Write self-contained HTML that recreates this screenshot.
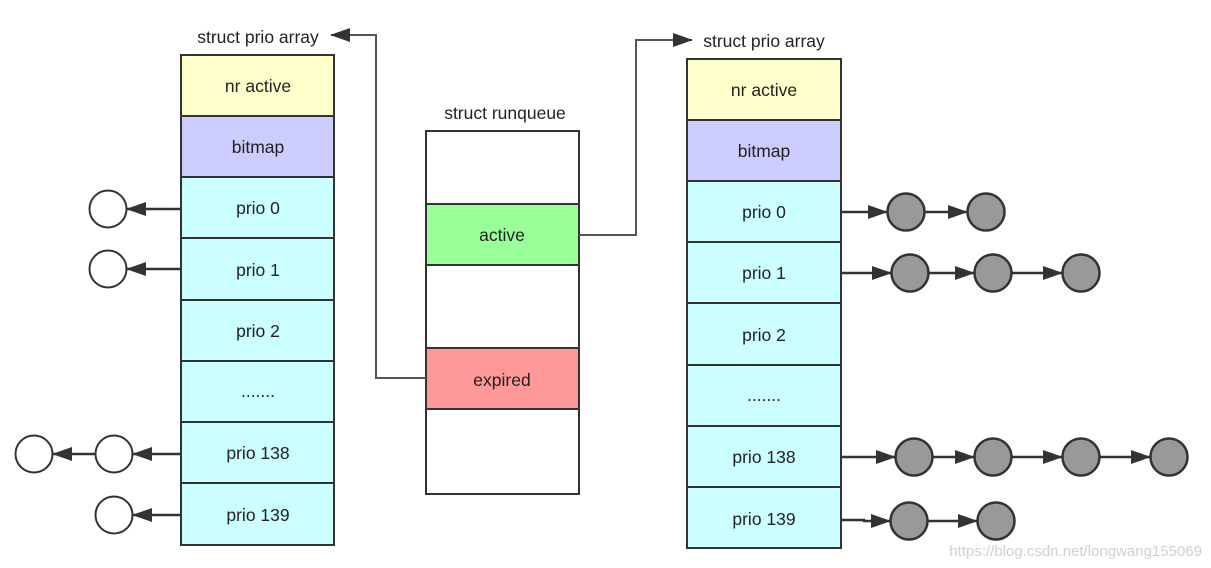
<!DOCTYPE html>
<html><head><meta charset="utf-8"><style>
html,body{margin:0;padding:0;background:#fff;}
svg{display:block;}
text{font-family:"Liberation Sans","DejaVu Sans",sans-serif;font-size:17.5px;fill:#222;}
</style></head><body>
<svg width="1211" height="568" viewBox="0 0 1211 568" xmlns="http://www.w3.org/2000/svg">
<defs>
<marker id="b" markerWidth="20" markerHeight="14" refX="19" refY="7" orient="auto" markerUnits="userSpaceOnUse" viewBox="0 0 20 14">
<path d="M0,0 L20,7 L0,14 z" fill="#333"/></marker>
</defs>

<text x="258" y="43" text-anchor="middle">struct prio  array</text>
<g stroke="#333" stroke-width="2">
<rect x="181" y="55" width="153" height="61" fill="#ffffcc"/>
<rect x="181" y="116" width="153" height="61" fill="#ccccff"/>
<rect x="181" y="177" width="153" height="61" fill="#ccffff"/>
<rect x="181" y="238" width="153" height="62" fill="#ccffff"/>
<rect x="181" y="300" width="153" height="61" fill="#ccffff"/>
<rect x="181" y="361" width="153" height="61" fill="#ccffff"/>
<rect x="181" y="422" width="153" height="61" fill="#ccffff"/>
<rect x="181" y="483" width="153" height="62" fill="#ccffff"/>
</g>
<g text-anchor="middle">
<text x="258" y="92">nr  active</text>
<text x="258" y="153">bitmap</text>
<text x="258" y="214">prio  0</text>
<text x="258" y="276">prio  1</text>
<text x="258" y="337">prio  2</text>
<text x="258" y="397">.......</text>
<text x="258" y="459">prio  138</text>
<text x="258" y="521">prio  139</text>
</g>
<g stroke="#333" stroke-width="2" fill="#fff">
<circle cx="108" cy="209" r="18.5"/>
<circle cx="108" cy="269" r="18.5"/>
<circle cx="34" cy="454" r="18.5"/>
<circle cx="114" cy="454" r="18.5"/>
<circle cx="114" cy="515" r="18.5"/>
</g>
<g stroke="#333" stroke-width="2.5" fill="none" marker-end="url(#b)">
<line x1="181" y1="209" x2="127" y2="209"/>
<line x1="181" y1="269" x2="127" y2="269"/>
<line x1="181" y1="454" x2="133" y2="454"/>
<line x1="95" y1="454" x2="53" y2="454"/>
<line x1="181" y1="515" x2="133" y2="515"/>
</g>

<text x="505" y="119" text-anchor="middle">struct runqueue</text>
<g stroke="#333" stroke-width="2">
<rect x="426" y="131" width="153" height="363" fill="#fff"/>
<rect x="426" y="204" width="153" height="61" fill="#99ff99"/>
<rect x="426" y="348" width="153" height="61" fill="#ff9999"/>
</g>
<text x="502" y="241" text-anchor="middle">active</text>
<text x="502" y="386" text-anchor="middle">expired</text>

<g stroke="#555" stroke-width="2" fill="none" marker-end="url(#b)">
<polyline points="426,378 376,378 376,35 331,35"/>
<polyline points="579,235 636,235 636,40 692,40"/>
</g>

<text x="764" y="47" text-anchor="middle">struct prio  array</text>
<g stroke="#333" stroke-width="2">
<rect x="687" y="59" width="154" height="61" fill="#ffffcc"/>
<rect x="687" y="120" width="154" height="61" fill="#ccccff"/>
<rect x="687" y="181" width="154" height="61" fill="#ccffff"/>
<rect x="687" y="242" width="154" height="61" fill="#ccffff"/>
<rect x="687" y="303" width="154" height="62" fill="#ccffff"/>
<rect x="687" y="365" width="154" height="61" fill="#ccffff"/>
<rect x="687" y="426" width="154" height="61" fill="#ccffff"/>
<rect x="687" y="487" width="154" height="61" fill="#ccffff"/>
</g>
<g text-anchor="middle">
<text x="764" y="96">nr  active</text>
<text x="764" y="157">bitmap</text>
<text x="764" y="218">prio  0</text>
<text x="764" y="279">prio  1</text>
<text x="764" y="341">prio  2</text>
<text x="764" y="401">.......</text>
<text x="764" y="463">prio  138</text>
<text x="764" y="525">prio  139</text>
</g>
<g stroke="#333" stroke-width="2.5" fill="none" marker-end="url(#b)">
<line x1="841" y1="212" x2="887" y2="212"/>
<line x1="925" y1="212" x2="967" y2="212"/>
<line x1="841" y1="273" x2="891" y2="273"/>
<line x1="929" y1="273" x2="974" y2="273"/>
<line x1="1012" y1="273" x2="1062" y2="273"/>
<line x1="841" y1="457" x2="895" y2="457"/>
<line x1="933" y1="457" x2="974" y2="457"/>
<line x1="1012" y1="457" x2="1062" y2="457"/>
<line x1="1100" y1="457" x2="1150" y2="457"/>
<polyline points="841,520 864,520 864,521 890,521"/>
<line x1="928" y1="521" x2="977" y2="521"/>
</g>
<g stroke="#333" stroke-width="2.5" fill="#999">
<circle cx="906" cy="212" r="18.5"/>
<circle cx="986" cy="212" r="18.5"/>
<circle cx="910" cy="273" r="18.5"/>
<circle cx="993" cy="273" r="18.5"/>
<circle cx="1081" cy="273" r="18.5"/>
<circle cx="914" cy="457" r="18.5"/>
<circle cx="993" cy="457" r="18.5"/>
<circle cx="1081" cy="457" r="18.5"/>
<circle cx="1169" cy="457" r="18.5"/>
<circle cx="909" cy="521" r="18.5"/>
<circle cx="996" cy="521" r="18.5"/>
</g>
<text x="1202" y="556" text-anchor="end" style="font-size:15px;fill:#d0d0d0">https://blog.csdn.net/longwang155069</text>
</svg>
</body></html>
